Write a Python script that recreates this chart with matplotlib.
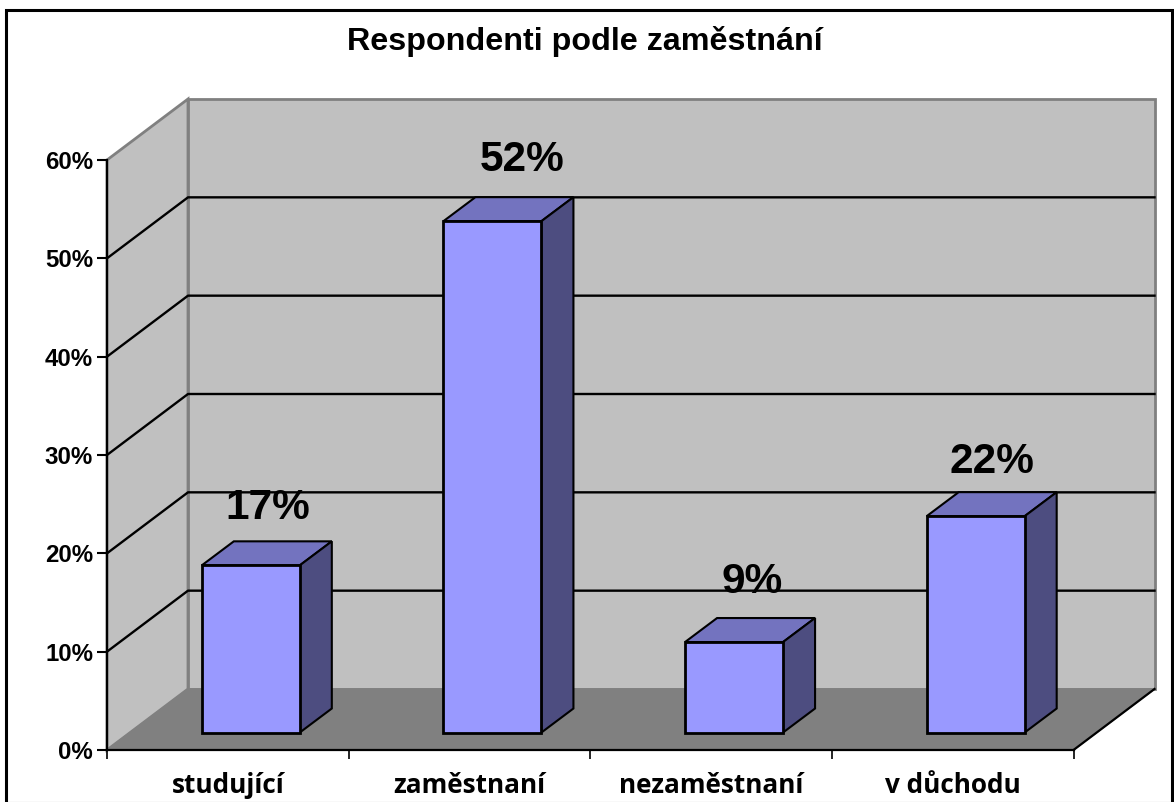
import matplotlib
matplotlib.use("Agg")
import matplotlib.pyplot as plt
from matplotlib.patches import Polygon, Rectangle

plt.rcParams['font.family'] = ['Liberation Sans', 'DejaVu Sans']

title = "Respondenti podle zaměstnání"
categories = ["studující", "zaměstnaní", "nezaměstnaní", "v důchodu"]
values = [17, 52, 9.2, 22]
bar_labels = ["17%", "52%", "9%", "22%"]
y_ticks = [0, 10, 20, 30, 40, 50, 60]

W, H = 1174, 802
L, R, T, B = 107, 1073.5, 160, 750
fig = plt.figure(figsize=(W / 100, H / 100), dpi=100)
ax = fig.add_axes([L / W, 1 - B / H, (R - L) / W, (B - T) / H])
ax.set_xlim(0, 4)
ax.set_ylim(0, 60)
ax.patch.set_alpha(0)

# px -> data units
ux = 4 / (R - L)
uy = 60 / (B - T)
DX, DY = 81 * ux, 61 * uy      # depth of the box
IX, IY = 23 * ux, 17.5 * uy    # bar inset from the front edge
BX, BY = 32 * ux, 24 * uy      # depth of a bar
bw = 98 * ux

# outer frame
fig.add_artist(Rectangle((6, H - 803), 1166, 793, transform=None, fill=False, ec='black', lw=2.2))

# walls and floor
grey = '#808080'
ax.add_patch(Polygon([(0, 0), (DX, DY), (DX, 60 + DY), (0, 60)], fc='#c0c0c0', ec=grey, lw=2, clip_on=False, zorder=1))
ax.add_patch(Polygon([(DX, DY), (4 + DX, DY), (4 + DX, 60 + DY), (DX, 60 + DY)], fc='#c0c0c0', ec=grey, lw=2, clip_on=False, zorder=1))
ax.add_patch(Polygon([(0, 0), (DX, DY), (4 + DX, DY), (4, 0)], fc=grey, ec=grey, lw=1, clip_on=False, zorder=1))
ax.plot([4, 4 + DX], [0, DY], color='black', lw=1.6, clip_on=False, zorder=2)

# gridlines
for t in y_ticks[1:-1]:
    ax.plot([0, DX, 4 + DX], [t, t + DY, t + DY], color='black', lw=1.7, clip_on=False, zorder=2)

# bars
x_pos = [i + 0.5 + IX for i in range(len(values))]
ax.bar(x_pos, values, width=bw, bottom=IY, color='#9999ff', edgecolor='black', linewidth=2, clip_on=False, zorder=4)
for x, v in zip(x_pos, values):
    x0, x1, y0, y1 = x - bw / 2, x + bw / 2, IY, IY + v
    ax.add_patch(Polygon([(x0, y1), (x0 + BX, y1 + BY), (x1 + BX, y1 + BY), (x1, y1)], fc='#7373bf', ec='black', lw=1.5, clip_on=False, zorder=3))
    ax.add_patch(Polygon([(x1, y0), (x1 + BX, y0 + BY), (x1 + BX, y1 + BY), (x1, y1)], fc='#4d4d80', ec='black', lw=1.5, clip_on=False, zorder=3))

# data labels, offset from the bar top in px
label_dx = [17, 30, 18, 16]
label_dy = [46, 50, 49, 43]
for x, v, s, dx, dy in zip(x_pos, values, bar_labels, label_dx, label_dy):
    ax.annotate(s, (x, IY + v), xytext=(dx * 0.72, dy * 0.72), textcoords='offset points', ha='center', va='baseline',
                fontsize=30.5, fontweight='bold', color='black', annotation_clip=False, zorder=5)

# axes
for s in ['top', 'right']:
    ax.spines[s].set_visible(False)
for s in ['left', 'bottom']:
    ax.spines[s].set_linewidth(1.6)
    ax.spines[s].set_zorder(6)
ax.set_yticks(y_ticks)
ax.set_yticklabels([f"{t}%" for t in y_ticks], fontsize=17.3, fontweight='bold')
ax.tick_params(axis='y', length=7, width=1.5, pad=3)
ax.set_xticks(range(5))
ax.set_xticklabels([])
ax.tick_params(axis='x', which='major', length=6.5, width=1.2)
ax.set_xticks([i + 0.5 for i in range(4)], minor=True)
ax.set_xticklabels(categories, minor=True, fontsize=18.8, fontweight='bold', family=['Open Sans', 'Liberation Sans'])
ax.tick_params(axis='x', which='minor', length=0, pad=16)

fig.text(585 / W, 1 - 50 / H, title, ha='center', va='baseline', fontsize=23.2, fontweight='bold')

fig.savefig("out.png", dpi=100)
